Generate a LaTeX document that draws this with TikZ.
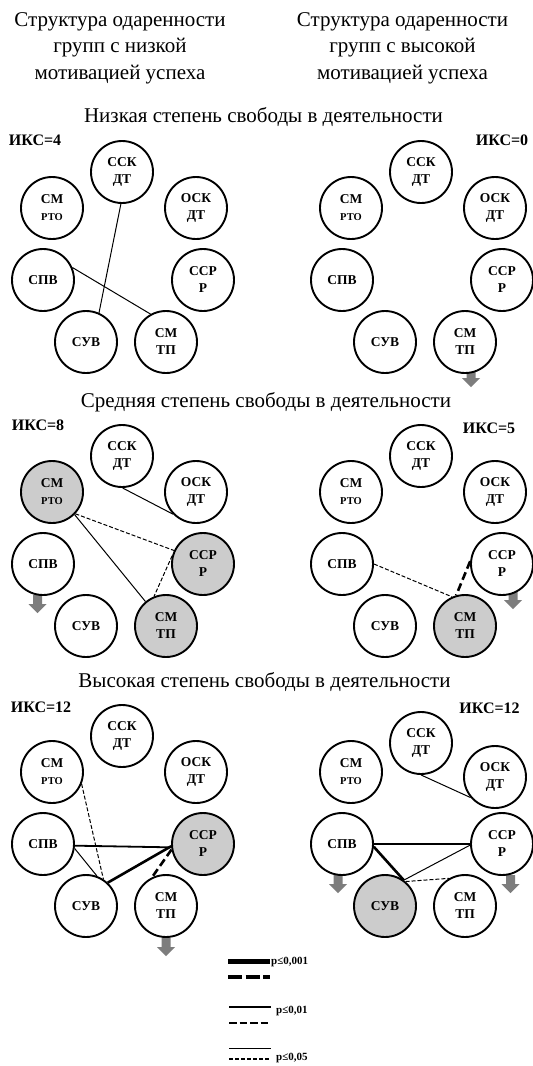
\documentclass[tikz,border=0pt]{standalone}
\usepackage{fontspec}
\setmainfont{Liberation Serif}
\definecolor{shadefill}{RGB}{204,204,204}
\definecolor{arrowgray}{RGB}{125,125,125}
\tikzset{
 fac/.style={circle, draw=black, line width=1.9pt, minimum size=62pt, inner sep=0pt, fill=white, align=center, font=\fontsize{13.5}{17}\selectfont\bfseries},
 hi/.style={fill=shadefill},
 thinline/.style={line width=1pt},
 midline/.style={line width=1.8pt},
 boldline/.style={line width=2.6pt},
 thindash/.style={line width=1pt, dash pattern=on 4pt off 2pt},
 bolddash/.style={line width=2.6pt, dash pattern=on 8pt off 4pt},
 heading/.style={font=\fontsize{21}{24}\selectfont, anchor=base, inner sep=0pt},
 iks/.style={font=\fontsize{16}{18}\selectfont\bfseries, inner sep=0pt},
 legtext/.style={font=\fontsize{11}{13}\selectfont\bfseries, anchor=west, inner sep=0pt},
 downarrow/.pic={\fill[arrowgray] (-4.5,0) -- (4.5,0) -- (4.5,9) -- (9,9) -- (0,18) -- (-9,9) -- (-4.5,9) -- cycle;}
}
\newcommand\facpanel[9]{%
 \begin{scope}[shift={#2}]
 \node[fac,#3] (#1ssk) at (122,172) {ССК\\ДТ};
 \node[fac,#4] (#1smrto) at (52,208) {СМ\\{\fontsize{10.5}{12}\selectfont РТО}};
 \node[fac,#5] (#1osk) at (196,208) {ОСК\\ДТ};
 \node[fac,#6] (#1spv) at (43,280) {СПВ};
 \node[fac,#7] (#1ssr) at (203,280) {ССР\\Р};
 \node[fac,#8] (#1suv) at (86,342) {СУВ};
 \node[fac,#9] (#1smtp) at (166,342) {СМ\\ТП};
 \end{scope}}
\begin{document}
\begin{tikzpicture}[x=1pt,y=-1pt]
\fill[white] (0,0) rectangle (533,1066);
\useasboundingbox (0,0) rectangle (533,1066);

% headings
\node[heading] (hl1) at (120,26) {Структура одаренности};
\node[heading] (hl2) at (120,52.7) {групп с низкой};
\node[heading] (hl3) at (120,79) {мотивацией успеха};
\node[heading] (hr1) at (402.5,26) {Структура одаренности};
\node[heading] (hr2) at (402.5,52.7) {групп с высокой};
\node[heading] (hr3) at (402.5,79) {мотивацией успеха};
\node[heading] (s1) at (263.5,122) {Низкая степень свободы в деятельности};
\node[heading] (s2) at (266,407) {Средняя степень свободы в деятельности};
\node[heading] (s3) at (264.5,687) {Высокая степень свободы в деятельности};

% IKS labels
\node[iks] (k1) at (35,140) {ИКС=4};
\node[iks] (k2) at (502,140) {ИКС=0};
\node[iks] (k3) at (38,425) {ИКС=8};
\node[iks] (k4) at (489,428) {ИКС=5};
\node[iks] (k5) at (41,707) {ИКС=12};
\node[iks] (k6) at (489.5,708) {ИКС=12};

% down arrows
\pic at (471,369) {downarrow};
\pic at (37.5,595) {downarrow};
\pic at (513,591) {downarrow};
\pic at (166,938) {downarrow};
\pic at (338,875) {downarrow};
\pic at (510.5,875) {downarrow};

% panels: prefix, shift, ssk, smrto, osk, spv, ssr, suv, smtp
\facpanel{a}{(0,0)}{}{}{}{}{}{}{}
\facpanel{b}{(299,0)}{}{}{}{}{}{}{}
\facpanel{c}{(0,284)}{}{hi}{}{}{hi}{}{hi}
\facpanel{d}{(299,284)}{}{}{}{}{}{}{hi}
\facpanel{e}{(0,564)}{}{}{}{}{hi}{}{}
\facpanel{f}{(299,564)}{yshift=-7pt}{}{yshift=-5pt}{}{}{hi}{}

% connectors panel a
\draw[thinline] (assk.-92) -- (asuv.66);
\draw[thinline] (aspv.23) -- (asmtp.119);
% panel c
\draw[thinline] (cssk.-89) -- (cosk.224);
\draw[thindash] (csmrto.-43) -- (cssr.155);
\draw[thinline] (csmrto.-45) -- (csmtp.130);
\draw[thindash] (cssr.165) -- (csmtp.112);
% panel d
\draw[thindash] (dspv.0) -- (dsmtp.114);
\draw[bolddash] (dssr.175) -- (dsmtp.106);
% panel e
\draw[thindash] (esmrto.-22) -- (esuv.57);
\draw[midline] (espv.-3) -- (essr.186);
\draw[thinline] (espv.-8) -- (esuv.70);
\draw[boldline] (esuv.47) -- (essr.184);
\draw[bolddash] (essr.190) -- (esmtp.116);
% panel f
\draw[thinline] (fssk.-90) -- (fosk.220);
\draw[boldline] (fspv.0) -- (fssr.180);
\draw[boldline] (fspv.-5) -- (fsuv.54);
\draw[thinline] (fsuv.54) -- (fssr.182);
\draw[thindash] (fsuv.50) -- (fsmtp.120);

% legend
\coordinate (l1a) at (228,961.7); \coordinate (l1b) at (270,961.7);
\coordinate (l2a) at (228,976.7); \coordinate (l2b) at (270,976.7);
\coordinate (l3a) at (229,1006.7); \coordinate (l3b) at (271,1006.7);
\coordinate (l4a) at (229,1022.7); \coordinate (l4b) at (270,1022.7);
\coordinate (l5a) at (229,1048.3); \coordinate (l5b) at (271,1048.3);
\coordinate (l6a) at (229,1059); \coordinate (l6b) at (270,1059);
\draw[line width=4.5pt] (l1a) -- (l1b);
\draw[line width=4pt, dash pattern=on 14pt off 3.5pt] (l2a) -- (l2b);
\draw[line width=2pt] (l3a) -- (l3b);
\draw[line width=2pt, dash pattern=on 7.5pt off 3pt] (l4a) -- (l4b);
\draw[line width=1.2pt] (l5a) -- (l5b);
\draw[line width=1.2pt, dash pattern=on 4pt off 2pt] (l6a) -- (l6b);
\node[legtext] (t1) at (271,962) {p≤0,001};
\node[legtext] (t2) at (276,1010.7) {p≤0,01};
\node[legtext] (t3) at (276,1058.3) {p≤0,05};
\end{tikzpicture}
\end{document}
